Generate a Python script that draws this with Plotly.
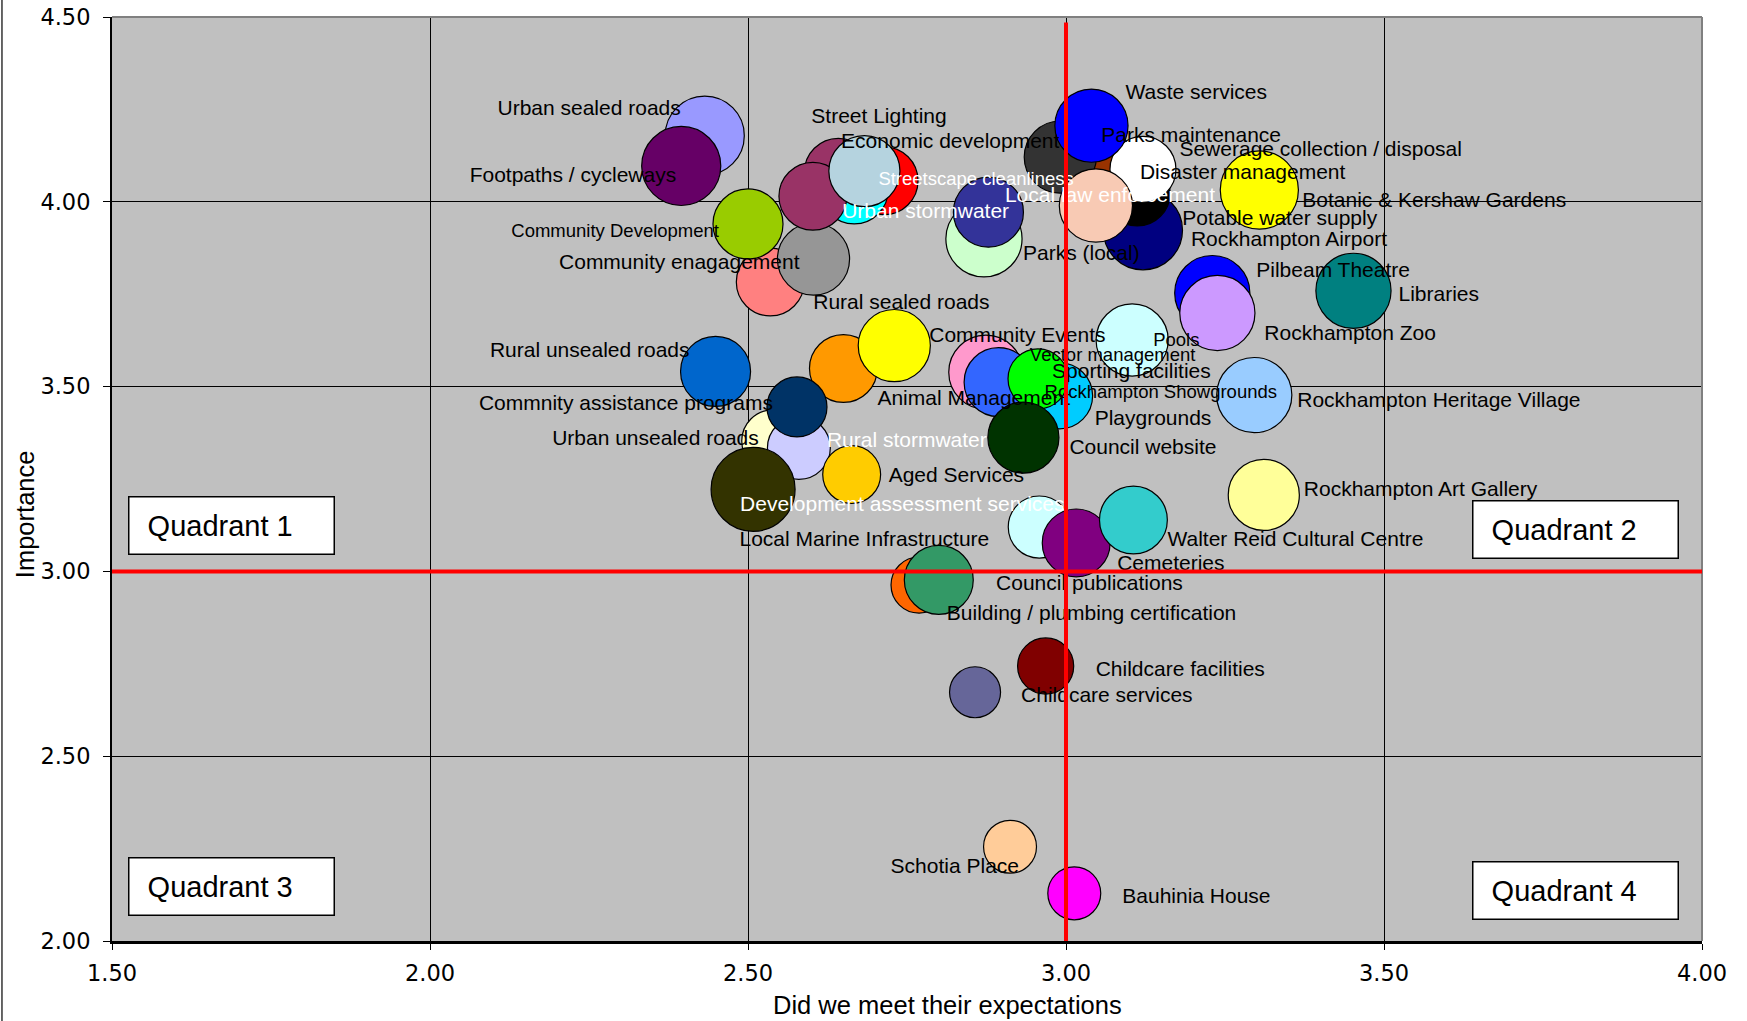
import plotly.graph_objects as go

# ---- survey results: expectation met vs importance, bubble = respondents ----
services = [
    "Urban sealed roads", "Footpaths / cycleways", "Rural sealed roads",
    "Community enagagement", "Community Development", "Street Lighting",
    "Economic development", "Urban stormwater", "", "Streetscape cleanliness",
    "Parks (local)", "", "Rockhampton Airport", "Potable water supply",
    "Sewerage collection / disposal", "Parks maintenance", "Disaster management",
    "Waste services", "Local law enforcement", "Botanic & Kershaw Gardens",
    "Pilbeam Theatre", "Rockhampton Zoo", "Libraries", "Pools",
    "Rockhampton Heritage Village", "Rural unsealed roads", "Animal Management",
    "Community Events", "Urban unsealed roads", "Rural stormwater",
    "Commnity assistance programs", "Aged Services",
    "Development assessment services", "Vector management",
    "Rockhampton Showgrounds", "Playgrounds", "Sporting facilities",
    "Council website", "Local Marine Infrastructure", "Cemeteries",
    "Walter Reid Cultural Centre", "Rockhampton Art Gallery",
    "Council publications", "Building / plumbing certification",
    "Childcare facilities", "Childcare services", "Schotia Place",
    "Bauhinia House",
]

expectation = [
    2.432, 2.395, 2.535, 2.603, 2.500, 2.642, 2.714, 2.667, 2.602, 2.683,
    2.871, 2.878, 3.121, 3.112, 3.062, 2.991, 3.121, 3.040, 3.047, 3.304,
    3.230, 3.238, 3.452, 3.104, 3.296, 2.449, 2.650, 2.730, 2.539, 2.580,
    2.577, 2.663, 2.508, 2.874, 2.894, 2.990, 2.956, 2.933, 2.958, 3.016,
    3.106, 3.311, 2.769, 2.800, 2.968, 2.857, 2.912, 3.013,
]

importance = [
    4.179, 4.097, 3.783, 3.845, 3.940, 4.080, 4.057, 4.032, 4.015, 4.083,
    3.900, 3.972, 3.923, 4.024, 4.090, 4.121, 4.088, 4.206, 3.990, 4.032,
    3.753, 3.699, 3.759, 3.626, 3.477, 3.541, 3.549, 3.611, 3.353, 3.334,
    3.445, 3.262, 3.222, 3.539, 3.512, 3.475, 3.521, 3.362, 3.120, 3.077,
    3.139, 3.207, 2.963, 2.977, 2.744, 2.673, 2.255, 2.129,
]

respondents = [
    125, 125, 92, 104, 98, 92, 92, 92, 92, 101,
    116, 98, 125, 87, 87, 104, 87, 107, 107, 122,
    113, 113, 113, 104, 113, 98, 92, 104, 77, 79,
    72, 67, 141, 110, 95, 87, 72, 101, 77, 92,
    92, 101, 63, 95, 63, 52, 56, 56,
]

# ---- styling ----
bubble_colors = [
    "#9999FF", "#660066", "#FF8080", "#969696", "#99CC00", "#993366",
    "#FF0000", "#00FFFF", "#993366", "#B5D3DF", "#CCFFCC", "#333399",
    "#000080", "#000000", "#993300", "#333333", "#FFFFFF", "#0000FF",
    "#F8CAB4", "#FFFF00", "#0000FF", "#CC99FF", "#008080", "#CCFFFF",
    "#99CCFF", "#0066CC", "#FF9900", "#FFFF00", "#FFFFCC", "#CCCCFF",
    "#003366", "#FFCC00", "#333300", "#FF99CC", "#3366FF", "#00CCFF",
    "#00FF00", "#003300", "#CCFFFF", "#800080", "#33CCCC", "#FFFF99",
    "#FF6600", "#339966", "#800000", "#666699", "#FFCC99", "#FF00FF",
]

# label placement: which edge of the text is pinned, and the pixel offset of
# that edge from the bubble centre (dx to the right, dy downwards)
label_side = [
    "R", "R", "L", "R", "R", "L", "L", "L", "L", "L",
    "L", "L", "L", "L", "L", "L", "L", "L", "L", "L",
    "L", "L", "L", "L", "L", "R", "L", "L", "R", "L",
    "R", "L", "L", "L", "L", "L", "L", "L", "R", "L",
    "L", "L", "L", "L", "L", "L", "R", "L",
]
label_dx = [
    -24, -5, 43, -14, -29, -27, -43, -12, 0, 14,
    39, 0, 48, 45, 74, 41, -3, 34, -91, 43,
    44, 47, 45, 21, 43, -26, 34, 35, -14, 28,
    -24, 37, -13, 44, 46, 35, 14, 46, -50, 41,
    34, 40, 77, 8, 50, 46, 9, 48,
]
label_dy = [
    -28, 8, 19, 2, 6, -57, -40, 20, 0, 7,
    13, 0, 8, 24, -20, -23, 2, -34, -11, 9,
    -24, 19, 2, -1, 4, -22, 29, -11, -4, -9,
    -5, 0, 14, -18, 9, 21, -9, 9, 11, 19,
    18, -7, -3, 32, 2, 2, 18, 2,
]
LABEL_BASE_SHIFT = 2.5  # text box centre vs. glyph centre
small_labels = {"Community Development", "Streetscape cleanliness", "Pools",
                "Vector management", "Rockhampton Showgrounds"}
white_labels = {"Urban stormwater", "Streetscape cleanliness",
                "Local law enforcement", "Rural stormwater",
                "Development assessment services"}

LABEL_FONT = "Liberation Sans, Arial, sans-serif"
TICK_FONT = "DejaVu Sans, Verdana, sans-serif"

W, H = 1747, 1021
M = dict(l=112, r=45, t=17, b=80)
X_RANGE = [1.5, 4.0]
Y_RANGE = [2.0, 4.5]
px_per_x = (W - M["l"] - M["r"]) / (X_RANGE[1] - X_RANGE[0])
px_per_y = (H - M["t"] - M["b"]) / (Y_RANGE[1] - Y_RANGE[0])

label_x = [x + dx / px_per_x for x, dx in zip(expectation, label_dx)]
label_y = [y - (dy + LABEL_BASE_SHIFT) / px_per_y
           for y, dy in zip(importance, label_dy)]
label_pos = ["middle right" if s == "L" else "middle left" for s in label_side]
label_size = [18.5 if s in small_labels else 21 for s in services]
label_color = ["white" if s in white_labels else "black" for s in services]

fig = go.Figure()

fig.add_trace(go.Scatter(
    x=expectation, y=importance, mode="markers",
    marker=dict(
        size=respondents, sizemode="area",
        sizeref=2 * max(respondents) / 84 ** 2,
        color=bubble_colors, opacity=1,
        line=dict(color="black", width=1.2),
    ),
    hoverinfo="skip", showlegend=False, cliponaxis=False,
))

fig.add_trace(go.Scatter(
    x=label_x, y=label_y, mode="text", text=services,
    textposition=label_pos,
    textfont=dict(family=LABEL_FONT, size=label_size, color=label_color),
    hoverinfo="skip", showlegend=False, cliponaxis=False,
))

shapes = [
    # plot-area frame on the top and right
    dict(type="line", xref="paper", yref="paper", x0=0, x1=1, y0=1, y1=1,
         line=dict(color="#808080", width=2), layer="above"),
    dict(type="line", xref="paper", yref="paper", x0=1, x1=1, y0=0, y1=1,
         line=dict(color="#808080", width=2), layer="above"),
    # chart-area edge
    dict(type="line", xref="paper", yref="paper", x0=-0.0692, x1=-0.0692,
         y0=-0.09, y1=1.02, line=dict(color="black", width=1.2), layer="above"),
    # quadrant dividers
    dict(type="line", xref="x", yref="y", x0=3.0, x1=3.0, y0=2.0, y1=4.485,
         line=dict(color="#FF0000", width=4), layer="above"),
    dict(type="line", xref="x", yref="y", x0=1.5, x1=4.0, y0=3.0, y1=3.0,
         line=dict(color="#FF0000", width=4), layer="above"),
]

annotations = []
for name, px, py in [("Quadrant 1", 0.0101, 0.4816), ("Quadrant 2", 0.8552, 0.4773),
                     ("Quadrant 3", 0.0101, 0.0909), ("Quadrant 4", 0.8552, 0.0869)]:
    annotations.append(dict(
        text="\u00a0\u00a0" + name, x=px, y=py, xref="paper", yref="paper",
        xanchor="left", yanchor="top", showarrow=False, align="left",
        width=200, height=52, bgcolor="white", bordercolor="black",
        borderwidth=1.5, borderpad=2,
        font=dict(family=LABEL_FONT, size=29, color="black"),
    ))

annotations.append(dict(
    text="Did we meet their expectations", x=0.5253, y=-0.0693,
    xref="paper", yref="paper", xanchor="center", yanchor="middle",
    showarrow=False, font=dict(family=LABEL_FONT, size=25.5, color="black"),
))
annotations.append(dict(
    text="Importance", x=-0.0547, y=0.462, xref="paper", yref="paper",
    xanchor="center", yanchor="middle", textangle=-90, showarrow=False,
    font=dict(family=LABEL_FONT, size=25.5, color="black"),
))

fig.update_layout(
    width=W, height=H, autosize=False,
    margin=dict(l=M["l"], r=M["r"], t=M["t"], b=M["b"], pad=0),
    paper_bgcolor="white", plot_bgcolor="#C0C0C0",
    shapes=shapes, annotations=annotations, showlegend=False,
)

fig.update_xaxes(
    range=X_RANGE, dtick=0.5, tick0=1.5, tickformat=".2f",
    showgrid=True, gridcolor="black", gridwidth=1, zeroline=False,
    showline=True, linecolor="black", linewidth=3,
    ticks="outside", ticklen=6, tickcolor="black", tickwidth=1,
    ticklabelstandoff=4,
    tickfont=dict(family=TICK_FONT, size=22.5, color="black"),
    automargin=False, fixedrange=True,
)
fig.update_yaxes(
    range=Y_RANGE, dtick=0.5, tick0=2.0, tickformat=".2f",
    showgrid=True, gridcolor="black", gridwidth=1, zeroline=False,
    showline=True, linecolor="black", linewidth=2,
    ticks="outside", ticklen=7, tickcolor="black", tickwidth=1,
    ticklabelstandoff=8,
    tickfont=dict(family=TICK_FONT, size=22.5, color="black"),
    automargin=False, fixedrange=True,
)

fig.write_html("out.html")
